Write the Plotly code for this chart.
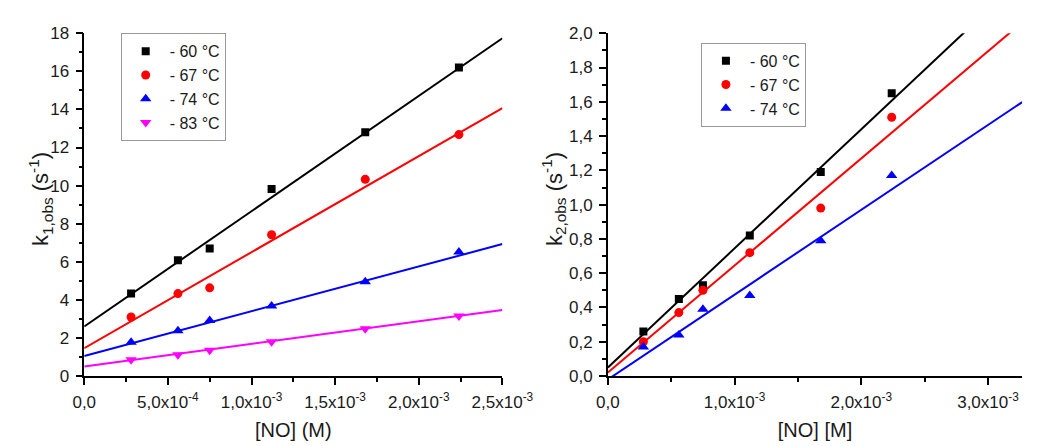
import numpy as np
import plotly.graph_objects as go

# ---------------- data ----------------
no_conc = [2.8e-4, 5.6e-4, 7.5e-4, 1.12e-3, 1.68e-3, 2.24e-3]

series_names_1 = ["- 60 °C", "- 67 °C", "- 74 °C", "- 83 °C"]
k1_m60 = [4.33, 6.08, 6.70, 9.82, 12.80, 16.20]
k1_m67 = [3.10, 4.33, 4.63, 7.42, 10.33, 12.68]
k1_m74 = [1.78, 2.38, 2.91, 3.68, 4.95, 6.52]
k1_m83 = [0.85, 1.12, 1.35, 1.80, 2.48, 3.15]
# linear fits (intercept, slope)
k1_fit_intercept = [2.60, 1.46, 1.05, 0.50]
k1_fit_slope = [6056.0, 5044.0, 2352.0, 1188.0]

series_names_2 = ["- 60 °C", "- 67 °C", "- 74 °C"]
k2_m60 = [0.26, 0.45, 0.53, 0.82, 1.19, 1.65]
k2_m67 = [0.20, 0.37, 0.50, 0.72, 0.98, 1.51]
k2_m74 = [0.17, 0.24, 0.39, 0.47, 0.79, 1.17]
k2_fit_intercept = [0.05, 0.02, -0.02]
k2_fit_slope = [695.0, 625.0, 495.0]

x1_tickvals = [0, 5e-4, 1e-3, 1.5e-3, 2e-3, 2.5e-3]
x1_ticktext = ["0,0", "5,0x10<sup>-4</sup>", "1,0x10<sup>-3</sup>", "1,5x10<sup>-3</sup>",
               "2,0x10<sup>-3</sup>", "2,5x10<sup>-3</sup>"]
x2_tickvals = [0, 1e-3, 2e-3, 3e-3]
x2_ticktext = ["0,0", "1,0x10<sup>-3</sup>", "2,0x10<sup>-3</sup>", "3,0x10<sup>-3</sup>"]

x1_title = "[NO] (M)"
x2_title = "[NO] [M]"
y1_title = "k<sub>1,obs</sub>&nbsp;(s<sup>-1</sup>)"
y2_title = "k<sub>2,obs</sub>&nbsp;(s<sup>-1</sup>)"

x1_max = 2.5e-3
x2_max = 3.27e-3

# ---------------- styling ----------------
colors = ["#000000", "#ff0000", "#0000ff", "#ff00ff"]
symbols = ["square", "circle", "triangle-up", "triangle-down"]
msizes = [8, 9, 10, 10]
FONT = "Liberation Sans, Arial, sans-serif"
TXT = "#1a1a1a"

fig = go.Figure()

k1_all = [k1_m60, k1_m67, k1_m74, k1_m83]
xl = np.array([0.0, x1_max])
for i, ys in enumerate(k1_all):
    fig.add_trace(go.Scatter(x=xl, y=k1_fit_intercept[i] + k1_fit_slope[i] * xl,
                             mode="lines", line=dict(color=colors[i], width=2),
                             showlegend=False, hoverinfo="skip", xaxis="x", yaxis="y"))
for i, ys in enumerate(k1_all):
    fig.add_trace(go.Scatter(x=no_conc, y=ys, mode="markers", name=series_names_1[i],
                             marker=dict(color=colors[i], symbol=symbols[i], size=msizes[i]),
                             legend="legend", xaxis="x", yaxis="y"))

k2_all = [k2_m60, k2_m67, k2_m74]
xr = np.array([0.0, x2_max])
for i, ys in enumerate(k2_all):
    fig.add_trace(go.Scatter(x=xr, y=k2_fit_intercept[i] + k2_fit_slope[i] * xr,
                             mode="lines", line=dict(color=colors[i], width=2),
                             showlegend=False, hoverinfo="skip", xaxis="x2", yaxis="y2"))
for i, ys in enumerate(k2_all):
    fig.add_trace(go.Scatter(x=no_conc, y=ys, mode="markers", name=series_names_2[i],
                             marker=dict(color=colors[i], symbol=symbols[i], size=msizes[i]),
                             legend="legend2", xaxis="x2", yaxis="y2"))

W, H = 1050, 446
axis_common = dict(showline=True, linecolor="#000", linewidth=1.5, ticks="outside",
                   ticklen=7, tickwidth=1.5, tickcolor="#000", showgrid=False, zeroline=False,
                   ticklabelstandoff=3,
                   tickfont=dict(family=FONT, size=17, color=TXT))
minor_common = dict(tickmode="linear", tick0=0, ticklen=4, ticks="outside",
                    tickcolor="#000", tickwidth=1.5, showgrid=False)

yd = [1 - 375 / H, 1 - 17 / H]

fig.update_layout(
    width=W, height=H, margin=dict(l=0, r=0, t=0, b=0),
    paper_bgcolor="white", plot_bgcolor="white",
    separators=",.",
    font=dict(family=FONT, size=16, color=TXT),
    xaxis=dict(domain=[67 / W, 503 / W], range=[0, x1_max], anchor="y",
               tickmode="array", tickvals=x1_tickvals, ticktext=x1_ticktext,
               minor=dict(dtick=2.5e-4, **minor_common),
               title=dict(text=x1_title, font=dict(family=FONT, size=20, color=TXT), standoff=12),
               **axis_common),
    yaxis=dict(domain=yd, range=[0, 18], anchor="x", tickmode="linear", tick0=0, dtick=2,
               minor=dict(dtick=1, **minor_common),
               **axis_common),
    xaxis2=dict(domain=[613 / W, 1045 / W], range=[0, x2_max], anchor="y2",
                tickmode="array", tickvals=x2_tickvals, ticktext=x2_ticktext,
                minor=dict(dtick=5e-4, **minor_common),
                title=dict(text=x2_title, font=dict(family=FONT, size=20, color=TXT), standoff=12),
                **axis_common),
    yaxis2=dict(domain=yd, range=[0, 2.0], anchor="x2", tickmode="linear", tick0=0, dtick=0.2,
                tickformat=".1f",
                minor=dict(dtick=0.1, **minor_common),
                **axis_common),
    legend=dict(x=105 / W, y=1 - 17 / H, xanchor="left", yanchor="top",
                bordercolor="#999", borderwidth=1, bgcolor="white", itemwidth=38,
                font=dict(family=FONT, size=16, color=TXT), tracegroupgap=0),
    legend2=dict(x=710 / W, y=1 - 27 / H, xanchor="left", yanchor="top",
                 bordercolor="#999", borderwidth=1, bgcolor="white", itemwidth=38,
                 font=dict(family=FONT, size=16, color=TXT), tracegroupgap=0),
    annotations=[
        dict(text=y1_title, xref="paper", yref="paper", x=22 / W, y=1 - 190 / H,
             xanchor="center", yanchor="middle", textangle=-90, showarrow=False,
             font=dict(family=FONT, size=22, color=TXT)),
        dict(text=y2_title, xref="paper", yref="paper", x=557 / W, y=1 - 190 / H,
             xanchor="center", yanchor="middle", textangle=-90, showarrow=False,
             font=dict(family=FONT, size=22, color=TXT)),
    ],
)

fig.write_html("out.html")
